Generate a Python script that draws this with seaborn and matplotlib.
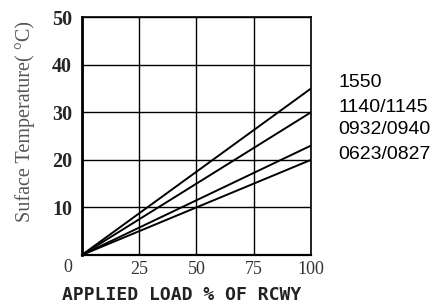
import matplotlib
matplotlib.use("Agg")
import matplotlib.pyplot as plt
import seaborn as sns
import pandas as pd

series = ["1550", "1140/1145", "0932/0940", "0623/0827"]
load_pct = [0, 100]
temp_1550 = [0, 35]
temp_1140 = [0, 30]
temp_0932 = [0, 23]
temp_0623 = [0, 20]
x_ticks = [0, 25, 50, 75, 100]
y_ticks = [0, 10, 20, 30, 40, 50]

rows = []
for name, vals in zip(series, [temp_1550, temp_1140, temp_0932, temp_0623]):
    for x, y in zip(load_pct, vals):
        rows.append({"load": x, "temp": y, "series": name})
df = pd.DataFrame(rows)

sns.set_style("white")
fig = plt.figure(figsize=(4.4, 3.05), dpi=100)
ax = fig.add_axes([0.186, 0.164, 0.521, 0.780])

sns.lineplot(data=df, x="load", y="temp", hue="series",
             palette=["black"] * 4, linewidth=1.4, legend=False, ax=ax)

ax.set_xlim(0, 100)
ax.set_ylim(0, 50)
ax.set_xticks(x_ticks)
ax.set_yticks(y_ticks)
ax.grid(True, color="black", linewidth=1.0)
for s in ax.spines.values():
    s.set_color("black")
    s.set_linewidth(1.2)
ax.spines["left"].set_linewidth(2.0)
ax.spines["bottom"].set_linewidth(1.6)
ax.tick_params(axis="y", length=0, pad=7)
ax.tick_params(axis="x", length=0, pad=4)

ax.set_xticklabels([str(t) if t else "" for t in x_ticks],
                   family="Liberation Serif", fontsize=13, color="#333333")
ax.set_yticklabels([str(t) if t else "" for t in y_ticks],
                   family="Liberation Serif", fontsize=14.5, fontweight="bold")
fig.text(68 / 440, 1 - 267 / 305, "0", family="Liberation Serif", fontsize=13,
         color="#333333", ha="center", va="center")

ax.set_xlabel("")
fig.text(182 / 440, 1 - 295 / 305, "APPLIED LOAD % OF RCWY",
         family="DejaVu Sans Mono", fontsize=13, fontweight="bold",
         color="#222222", ha="center", va="center")
ax.set_ylabel("")
fig.text(25 / 440, 1 - 122 / 305, "Suface Temperature( °C)",
         family="Liberation Serif", fontsize=14.5, color="#555555",
         rotation=90, ha="center", va="center")

legend_y = [83, 107, 130, 154]
for name, yp in zip(series, legend_y):
    fig.text(338 / 440, 1 - yp / 305, name, family="Liberation Sans",
             fontsize=14, color="black", va="center")

fig.savefig("out.png", dpi=100)
